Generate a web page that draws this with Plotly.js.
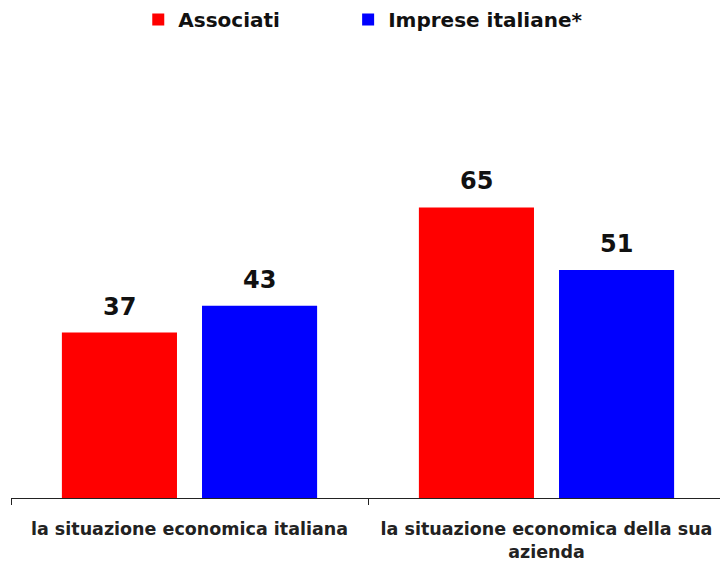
<!DOCTYPE html>
<html><head><meta charset="utf-8">
<script src="https://cdn.plot.ly/plotly-3.0.1.min.js"></script>
<style>body{margin:0;background:#fff}#chart{width:720px;height:561px}</style>
</head><body><div id="chart"></div>
<script>
const categories = ["la situazione economica italiana", "la situazione economica della sua<br>azienda"];
const seriesNames = ["Associati", "Imprese italiane*"];
const associati = [37, 65];
const imprese = [43, 51];
const colors = ["#ff0000", "#0000ff"];
const values = [associati, imprese];
const barOffsets = [-70, 70];
const legendIds = ["legend", "legend2"];
const legendX = [0.1795, 0.4755];

const traces = values.map((v, i) => ({
  type: "bar",
  name: seriesNames[i],
  x: categories,
  y: v,
  marker: {color: colors[i]},
  legend: legendIds[i],
  hoverinfo: "none"
}));

const annotations = [];
values.forEach((v, i) => {
  v.forEach((val, j) => {
    annotations.push({
      x: categories[j], y: val, xref: "x", yref: "y",
      text: String(val), showarrow: false,
      xanchor: "center", yanchor: "bottom",
      xshift: barOffsets[i], yshift: 10,
      font: {family: "DejaVu Sans, sans-serif", size: 24, color: "#111", weight: "bold"}
    });
  });
});

const legendFont = {family: "DejaVu Sans, sans-serif", size: 20, color: "#111", weight: "bold"};
const mkLegend = (x) => ({
  orientation: "h", x: x, xanchor: "left", y: 1, yanchor: "top",
  yref: "container", font: legendFont, bgcolor: "rgba(0,0,0,0)"
});

const layout = {
  width: 720, height: 561,
  margin: {l: 11, r: 0, t: 51, b: 63},
  paper_bgcolor: "#fff", plot_bgcolor: "#fff",
  barmode: "group",
  bargap: 0.215,
  bargroupgap: 0.1786,
  showlegend: true,
  annotations: annotations,
  legend: mkLegend(legendX[0]),
  legend2: mkLegend(legendX[1]),
  xaxis: {
    range: [-0.5, 1.486],
    showline: true, linecolor: "#222", linewidth: 1,
    ticks: "outside", tickson: "boundaries", ticklen: 6, tickcolor: "#222",
    ticklabelstandoff: 15,
    tickfont: {family: "DejaVu Sans, sans-serif", size: 17.5, color: "#222", weight: "bold"},
    showgrid: false, zeroline: false
  },
  yaxis: {range: [0, 100], visible: false, showgrid: false, zeroline: false}
};

Plotly.newPlot("chart", traces, layout, {displayModeBar: false, staticPlot: true});
</script></body></html>
